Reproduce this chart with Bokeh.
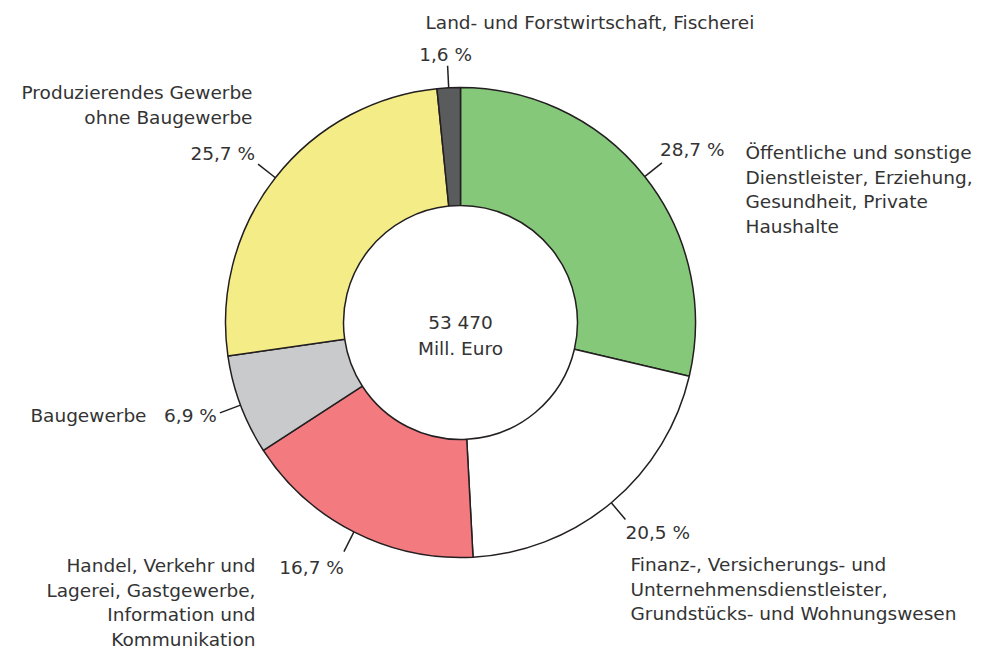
import math
from bokeh.plotting import figure
from bokeh.models import Range1d
from bokeh.embed import file_html
from bokeh.resources import INLINE
from bokeh.core.properties import value

# ---------------- data ----------------
category_lines = [
    ["Öffentliche und sonstige", "Dienstleister, Erziehung,", "Gesundheit, Private", "Haushalte"],
    ["Finanz-, Versicherungs- und", "Unternehmensdienstleister,", "Grundstücks- und Wohnungswesen"],
    ["Handel, Verkehr und", "Lagerei, Gastgewerbe,", "Information und", "Kommunikation"],
    ["Baugewerbe"],
    ["Produzierendes Gewerbe", "ohne Baugewerbe"],
    ["Land- und Forstwirtschaft, Fischerei"],
]
shares = [28.7, 20.5, 16.7, 6.9, 25.7, 1.6]
colors = ["#86c87a", "#ffffff", "#f37b80", "#c9cacc", "#f4ec87", "#5a5b5d"]
center_lines = ["53 470", "Mill. Euro"]

# ---------------- layout / style ----------------
W, H = 981, 650
FONT = value("DejaVu Sans")
FSIZE = value("18.5px")
TCOL = "#333333"
LINE_H = 24.5

def Y(ys):  # screen y -> data y
    return H - ys

CX, CY = 460, 322
R_OUT, R_IN, LEAD = 235, 117, 22

# per slice: pct label offset from leader end (screen px), pct align,
# category anchor (screen px), category align
label_layout = [
    dict(pdx=-2, pdy=-13, palign="left",   cx=745, cy=152, calign="left"),
    dict(pdx=0,  pdy=13,  palign="left",   cx=630, cy=564, calign="left"),
    dict(pdx=0,  pdy=16,  palign="right",  cx=255, cy=565, calign="right"),
    dict(pdx=-3, pdy=3,   palign="right",  cx=146, cy=415, calign="right"),
    dict(pdx=-3, pdy=-11, palign="right",  cx=252, cy=92,  calign="right"),
    dict(pdx=-2, pdy=-11, palign="center", cx=425, cy=22,  calign="left"),
]

p = figure(width=W, height=H, output_backend="svg", toolbar_location=None,
           x_range=Range1d(0, W), y_range=Range1d(0, H),
           min_border=0)
p.axis.visible = False
p.grid.visible = False
p.outline_line_color = None
p.background_fill_color = "white"

total = sum(shares)
cum = 0.0
starts, ends, mids = [], [], []
for s in shares:
    a0 = 90 - 360 * cum / total
    a1 = 90 - 360 * (cum + s) / total
    starts.append(math.radians(a1))
    ends.append(math.radians(a0))
    mids.append(math.radians((a0 + a1) / 2))
    cum += s

p.annular_wedge(x=[CX] * len(shares), y=[Y(CY)] * len(shares),
                inner_radius=R_IN, outer_radius=R_OUT,
                start_angle=starts, end_angle=ends,
                fill_color=colors, line_color="#231f20", line_width=1.5)

# leaders
x0s, y0s, x1s, y1s = [], [], [], []
for m in mids:
    x0s.append(CX + R_OUT * math.cos(m)); y0s.append(Y(CY) + R_OUT * math.sin(m))
    x1s.append(CX + (R_OUT + LEAD) * math.cos(m)); y1s.append(Y(CY) + (R_OUT + LEAD) * math.sin(m))
p.segment(x0=x0s, y0=y0s, x1=x1s, y1=y1s, line_color="#231f20", line_width=1.5)

def fmt(v):
    return f"{v:.1f}".replace(".", ",") + " %"

groups = {}
for i, s in enumerate(shares):
    lay = label_layout[i]
    px = x1s[i] + lay["pdx"]
    py = y1s[i] - lay["pdy"]
    groups.setdefault(lay["palign"], [[], [], []])
    g = groups[lay["palign"]]
    g[0].append(px); g[1].append(py); g[2].append(fmt(s))
    for k, line in enumerate(category_lines[i]):
        groups.setdefault(lay["calign"], [[], [], []])
        g = groups[lay["calign"]]
        g[0].append(lay["cx"]); g[1].append(Y(lay["cy"] + k * LINE_H)); g[2].append(line)

# center text
groups.setdefault("center", [[], [], []])
for k, line in enumerate(center_lines):
    groups["center"][0].append(CX)
    groups["center"][1].append(Y(CY + k * 26))
    groups["center"][2].append(line)

for align, (xs, ys, ts) in groups.items():
    p.text(x=xs, y=ys, text=ts, text_align=align, text_baseline="middle",
           text_font=FONT, text_font_size=FSIZE, text_color=TCOL)

open("out.html", "w").write(file_html(p, INLINE))
